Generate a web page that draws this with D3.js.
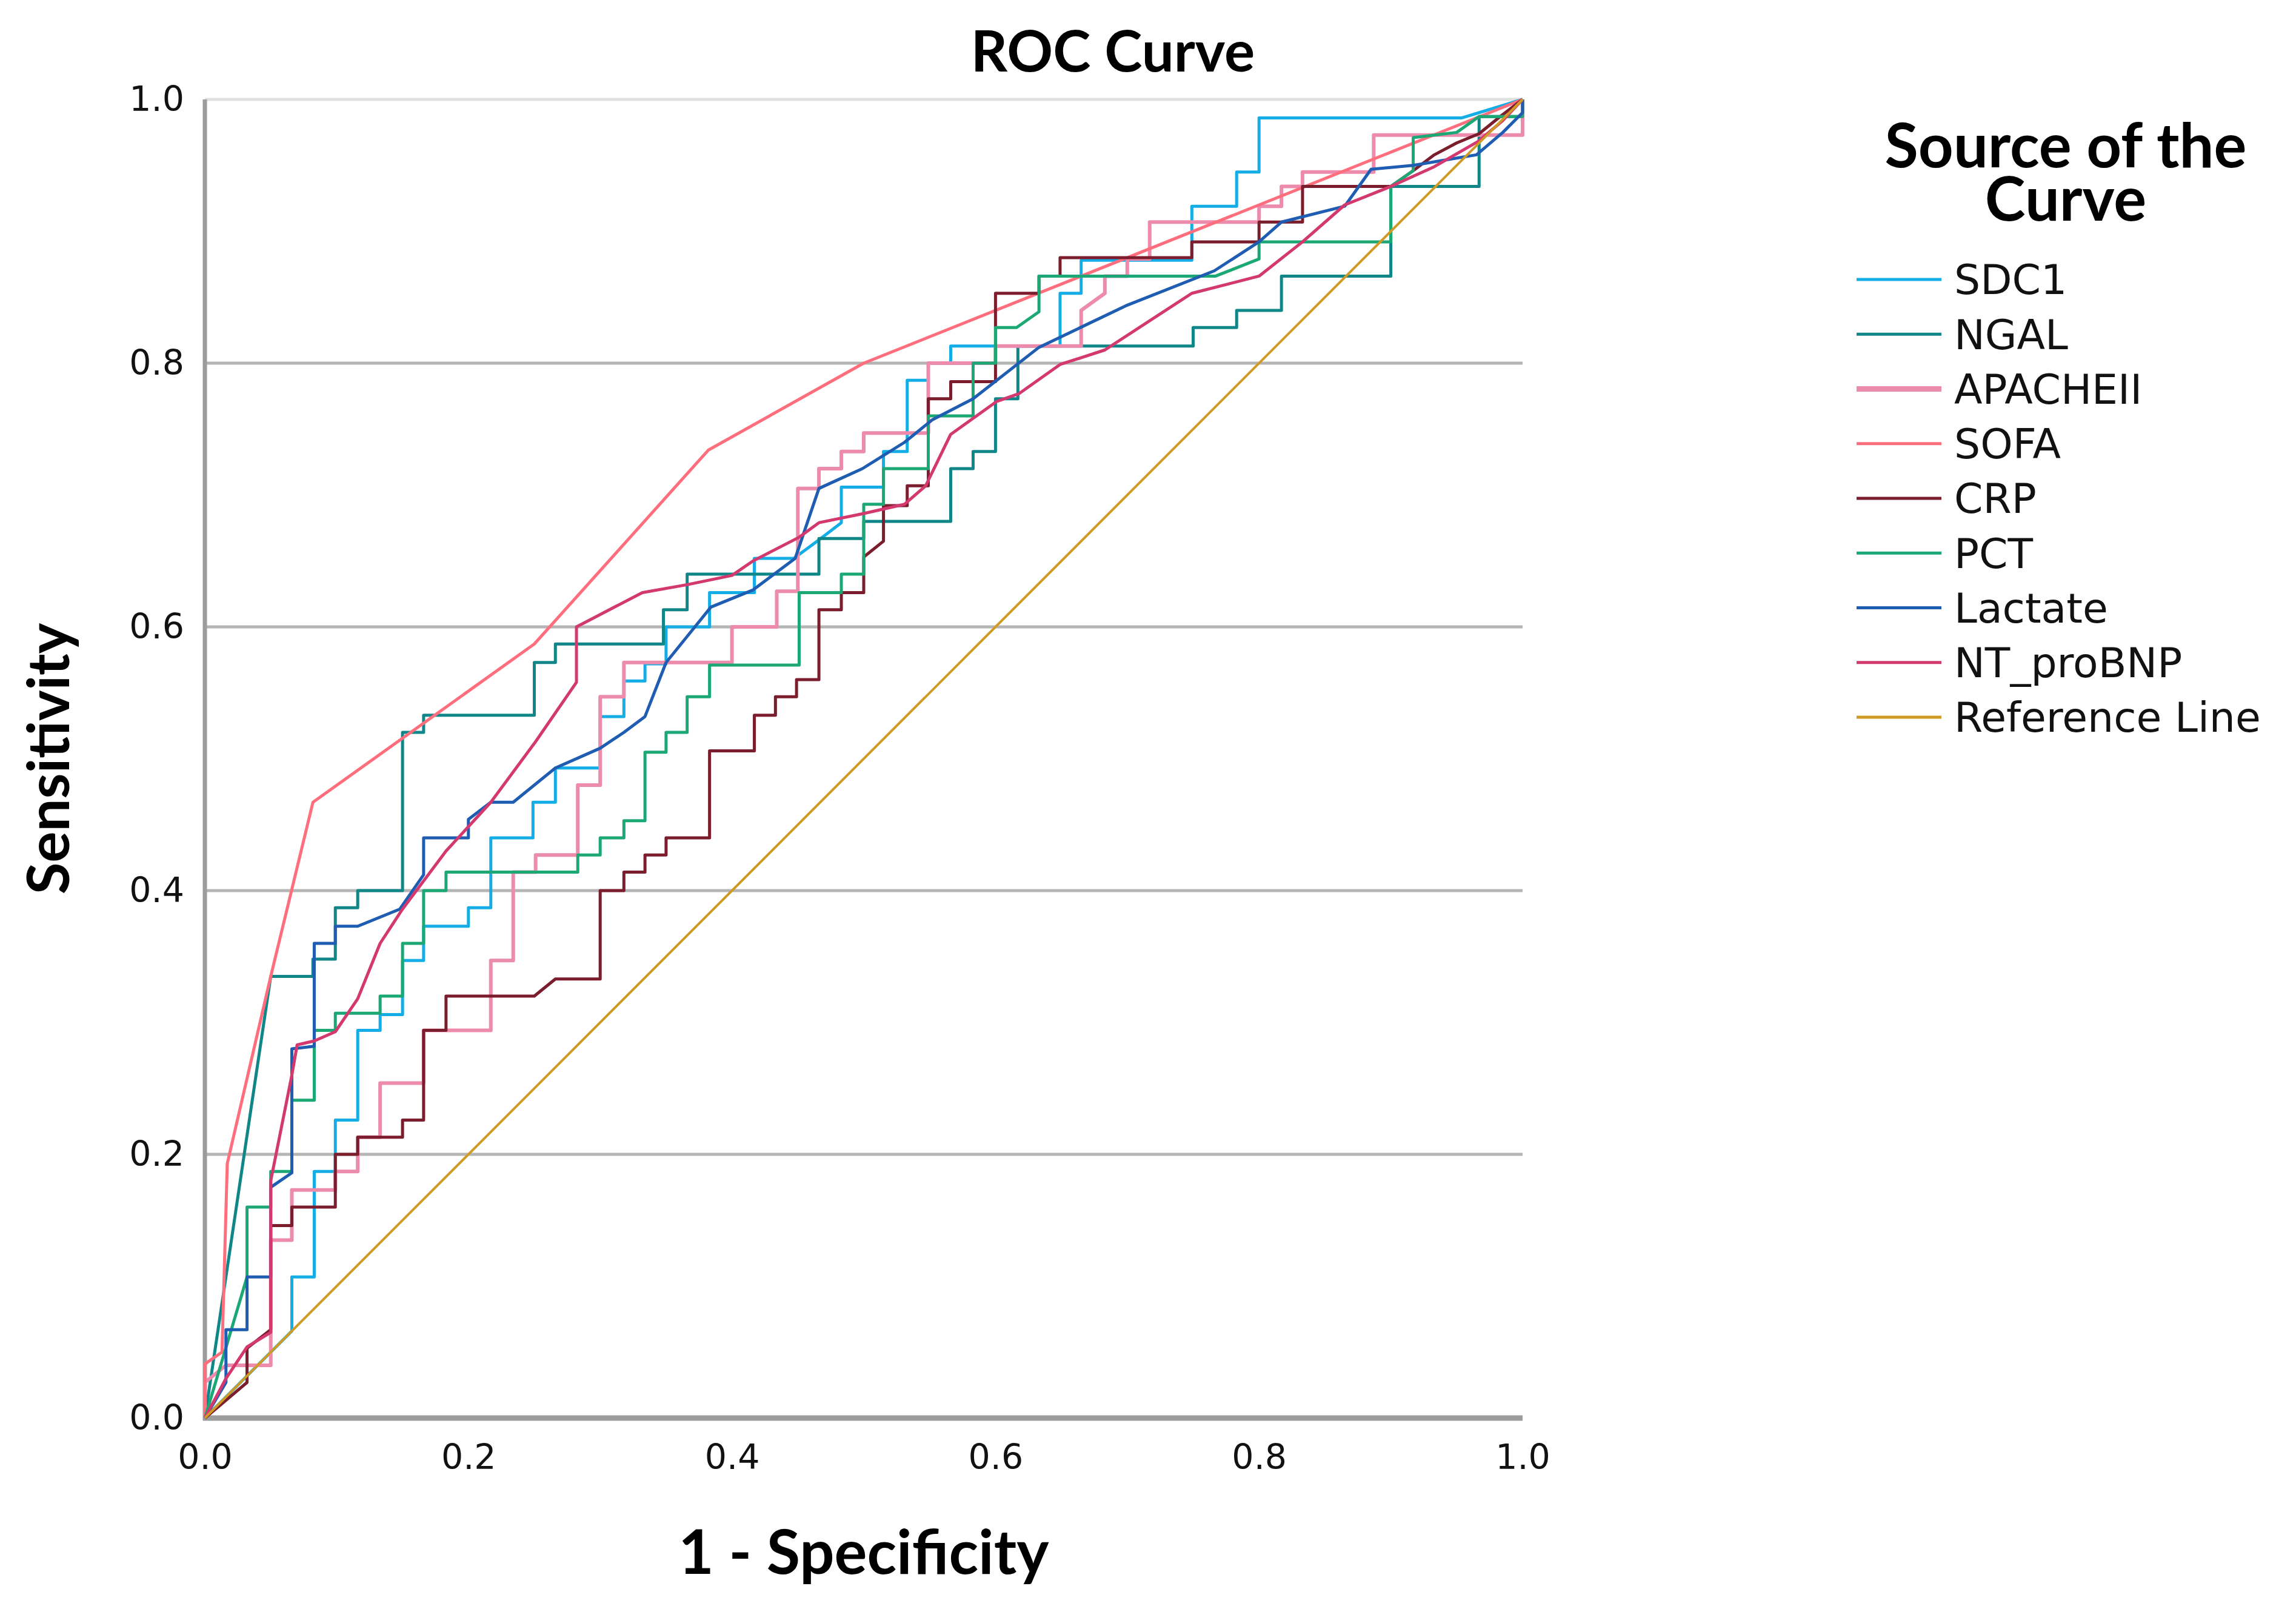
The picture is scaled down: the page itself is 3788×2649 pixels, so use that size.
<!DOCTYPE html>
<html>
<head>
<meta charset="utf-8">
<title>ROC Curve</title>
<script src="https://cdn.jsdelivr.net/npm/d3@7"></script>
<style>
  body { margin: 0; background: #fff; }
  svg { display: block; }
</style>
</head>
<body>
<div id="chart"></div>
<script>
// series names in legend order
const seriesNames = ["SDC1", "NGAL", "APACHEII", "SOFA", "CRP", "PCT", "Lactate", "NT_proBNP", "Reference Line"];
const seriesColors = ["#14ade6", "#118688", "#ec8bab", "#ff6e7c", "#7b1d2c", "#1ca874", "#1f5db3", "#d3396f", "#cf9b24"];

// points: [1 - specificity, sensitivity]
const sdc1 = [[0,0],[0.066,0.066],[0.066,0.107],[0.083,0.107],[0.083,0.187],[0.099,0.187],[0.099,0.226],[0.116,0.226],[0.116,0.294],[0.133,0.294],[0.133,0.306],[0.15,0.306],[0.15,0.347],[0.166,0.347],[0.166,0.373],[0.2,0.373],[0.2,0.387],[0.217,0.387],[0.217,0.44],[0.249,0.44],[0.249,0.467],[0.266,0.467],[0.266,0.493],[0.3,0.493],[0.3,0.532],[0.318,0.532],[0.318,0.559],[0.334,0.559],[0.334,0.572],[0.35,0.572],[0.35,0.6],[0.383,0.6],[0.383,0.626],[0.417,0.626],[0.417,0.652],[0.447,0.652],[0.466,0.666],[0.483,0.679],[0.483,0.706],[0.515,0.706],[0.515,0.733],[0.533,0.733],[0.533,0.787],[0.549,0.787],[0.549,0.8],[0.566,0.8],[0.566,0.813],[0.649,0.813],[0.649,0.853],[0.665,0.853],[0.665,0.878],[0.749,0.878],[0.749,0.919],[0.783,0.919],[0.783,0.945],[0.8,0.945],[0.8,0.986],[0.954,0.986],[1,1]];
const ngal = [[0,0],[0.05,0.335],[0.082,0.335],[0.082,0.348],[0.099,0.348],[0.099,0.387],[0.116,0.387],[0.116,0.4],[0.15,0.4],[0.15,0.52],[0.166,0.52],[0.166,0.533],[0.25,0.533],[0.25,0.573],[0.266,0.573],[0.266,0.587],[0.348,0.587],[0.348,0.613],[0.366,0.613],[0.366,0.64],[0.466,0.64],[0.466,0.667],[0.5,0.667],[0.5,0.68],[0.566,0.68],[0.566,0.72],[0.583,0.72],[0.583,0.733],[0.6,0.733],[0.6,0.773],[0.617,0.773],[0.617,0.813],[0.75,0.813],[0.75,0.827],[0.783,0.827],[0.783,0.84],[0.817,0.84],[0.817,0.866],[0.9,0.866],[0.9,0.934],[0.967,0.934],[0.967,0.987],[1,0.987],[1,1]];
const apache = [[0,0],[0,0.027],[0.016,0.04],[0.05,0.04],[0.05,0.135],[0.066,0.135],[0.066,0.173],[0.099,0.173],[0.099,0.187],[0.116,0.187],[0.116,0.213],[0.133,0.213],[0.133,0.254],[0.166,0.254],[0.166,0.294],[0.217,0.294],[0.217,0.347],[0.234,0.347],[0.234,0.414],[0.251,0.414],[0.251,0.427],[0.283,0.427],[0.283,0.48],[0.3,0.48],[0.3,0.547],[0.318,0.547],[0.318,0.573],[0.4,0.573],[0.4,0.6],[0.434,0.6],[0.434,0.627],[0.45,0.627],[0.45,0.705],[0.466,0.705],[0.466,0.72],[0.483,0.72],[0.483,0.733],[0.5,0.733],[0.5,0.747],[0.549,0.747],[0.549,0.8],[0.6,0.8],[0.6,0.813],[0.665,0.813],[0.665,0.84],[0.683,0.853],[0.683,0.866],[0.7,0.866],[0.7,0.879],[0.717,0.879],[0.717,0.907],[0.8,0.907],[0.8,0.919],[0.817,0.919],[0.817,0.934],[0.833,0.934],[0.833,0.945],[0.887,0.945],[0.887,0.973],[1,0.973],[1,1]];
const sofa = [[0,0],[0,0.041],[0.013,0.05],[0.017,0.193],[0.05,0.335],[0.082,0.467],[0.25,0.587],[0.382,0.734],[0.5,0.8],[1,1]];
const crp = [[0,0],[0.032,0.027],[0.032,0.053],[0.05,0.067],[0.05,0.146],[0.066,0.146],[0.066,0.16],[0.099,0.16],[0.099,0.2],[0.116,0.2],[0.116,0.213],[0.15,0.213],[0.15,0.226],[0.166,0.226],[0.166,0.294],[0.183,0.294],[0.183,0.32],[0.25,0.32],[0.266,0.333],[0.3,0.333],[0.3,0.4],[0.318,0.4],[0.318,0.414],[0.334,0.414],[0.334,0.427],[0.35,0.427],[0.35,0.44],[0.383,0.44],[0.383,0.506],[0.417,0.506],[0.417,0.533],[0.433,0.533],[0.433,0.547],[0.449,0.547],[0.449,0.56],[0.466,0.56],[0.466,0.613],[0.483,0.613],[0.483,0.626],[0.5,0.626],[0.5,0.653],[0.515,0.665],[0.515,0.692],[0.533,0.692],[0.533,0.707],[0.549,0.707],[0.549,0.773],[0.566,0.773],[0.566,0.786],[0.6,0.786],[0.6,0.853],[0.633,0.853],[0.633,0.866],[0.649,0.866],[0.649,0.88],[0.749,0.88],[0.749,0.892],[0.8,0.892],[0.8,0.907],[0.833,0.907],[0.833,0.934],[0.9,0.934],[0.917,0.946],[0.933,0.958],[0.95,0.967],[0.967,0.974],[0.983,0.987],[1,1]];
const pct = [[0,0],[0.006,0.02],[0.032,0.107],[0.032,0.16],[0.05,0.16],[0.05,0.187],[0.066,0.187],[0.066,0.241],[0.083,0.241],[0.083,0.294],[0.099,0.294],[0.099,0.307],[0.133,0.307],[0.133,0.32],[0.15,0.32],[0.15,0.36],[0.166,0.36],[0.166,0.4],[0.183,0.4],[0.183,0.414],[0.283,0.414],[0.283,0.427],[0.3,0.427],[0.3,0.44],[0.318,0.44],[0.318,0.453],[0.334,0.453],[0.334,0.505],[0.35,0.505],[0.35,0.52],[0.366,0.52],[0.366,0.547],[0.383,0.547],[0.383,0.571],[0.451,0.571],[0.451,0.626],[0.483,0.626],[0.483,0.64],[0.5,0.64],[0.5,0.693],[0.515,0.693],[0.515,0.72],[0.549,0.72],[0.549,0.76],[0.583,0.76],[0.583,0.8],[0.6,0.8],[0.6,0.827],[0.616,0.827],[0.633,0.839],[0.633,0.866],[0.767,0.866],[0.8,0.879],[0.8,0.892],[0.9,0.892],[0.9,0.934],[0.917,0.946],[0.917,0.971],[0.95,0.975],[0.967,0.987],[1,0.987],[1,1]];
const lactate = [[0,0],[0.016,0.027],[0.016,0.067],[0.032,0.067],[0.032,0.107],[0.05,0.107],[0.05,0.175],[0.066,0.186],[0.066,0.28],[0.083,0.282],[0.083,0.36],[0.099,0.36],[0.099,0.373],[0.116,0.373],[0.148,0.386],[0.166,0.412],[0.166,0.44],[0.2,0.44],[0.2,0.454],[0.217,0.467],[0.234,0.467],[0.266,0.493],[0.3,0.508],[0.318,0.52],[0.334,0.532],[0.35,0.573],[0.384,0.615],[0.416,0.628],[0.448,0.652],[0.466,0.705],[0.499,0.72],[0.531,0.74],[0.552,0.757],[0.583,0.773],[0.633,0.812],[0.7,0.844],[0.766,0.87],[0.8,0.892],[0.817,0.907],[0.865,0.919],[0.885,0.947],[0.917,0.95],[0.965,0.958],[0.985,0.975],[1,0.99],[1,1]];
const ntprobnp = [[0,0],[0.016,0.03],[0.032,0.054],[0.05,0.065],[0.05,0.18],[0.066,0.26],[0.07,0.283],[0.083,0.286],[0.099,0.293],[0.116,0.318],[0.133,0.36],[0.15,0.386],[0.183,0.43],[0.217,0.467],[0.251,0.513],[0.282,0.558],[0.282,0.6],[0.332,0.626],[0.366,0.632],[0.4,0.639],[0.416,0.65],[0.451,0.668],[0.466,0.679],[0.5,0.686],[0.531,0.693],[0.547,0.707],[0.566,0.746],[0.601,0.771],[0.618,0.777],[0.649,0.799],[0.683,0.81],[0.749,0.853],[0.8,0.866],[0.833,0.892],[0.865,0.92],[0.9,0.934],[0.933,0.949],[0.966,0.968],[0.985,0.984],[1,1]];
const refLine = [[0,0],[1,1]];

const curves = [sdc1, ngal, apache, sofa, crp, pct, lactate, ntprobnp, refLine];
const ticks = [0, 0.2, 0.4, 0.6, 0.8, 1.0];
const legendTitle = ["Source of the", "Curve"];

const width = 3788;
const height = 2649;
const margin = { left: 338, top: 164, right: 1276, bottom: 310 };
const plotW = width - margin.left - margin.right;
const plotH = height - margin.top - margin.bottom;

const svg = d3.select("#chart")
    .append("svg")
    .attr("width", width)
    .attr("height", height);

const x = d3.scaleLinear().domain([0, 1]).range([margin.left, margin.left + plotW]);
const y = d3.scaleLinear().domain([0, 1]).range([margin.top + plotH, margin.top]);

// horizontal grid lines
svg.append("g")
    .selectAll("line")
    .data(ticks.filter(d => d > 0))
    .enter()
    .append("line")
    .attr("x1", x(0))
    .attr("x2", x(1))
    .attr("y1", d => y(d))
    .attr("y2", d => y(d))
    .style("stroke", d => d === 1 ? "#e0e0e0" : "#b5b5b5")
    .style("stroke-width", 5);

// axes, labels only
const fmt = d3.format(".1f");
const yAxis = svg.append("g")
    .attr("transform", `translate(${x(0)},0)`)
    .call(d3.axisLeft(y).tickValues(ticks).tickFormat(fmt).tickSize(0).tickPadding(34));
const xAxis = svg.append("g")
    .attr("transform", `translate(0,${y(0)})`)
    .call(d3.axisBottom(x).tickValues(ticks).tickFormat(fmt).tickSize(0).tickPadding(44));
[yAxis, xAxis].forEach(a => {
    a.select(".domain").remove();
    a.selectAll("text")
        .style("font-family", "'DejaVu Sans', sans-serif")
        .style("font-size", "57px")
        .style("fill", "#111");
});

// axis lines
svg.append("line")
    .attr("x1", x(0)).attr("x2", x(0))
    .attr("y1", y(1)).attr("y2", y(0) + 4)
    .style("stroke", "#9c9c9c").style("stroke-width", 7);
svg.append("line")
    .attr("x1", x(0) - 3).attr("x2", x(1))
    .attr("y1", y(0)).attr("y2", y(0))
    .style("stroke", "#9c9c9c").style("stroke-width", 9);

// curves
const line = d3.line()
    .x(d => x(d[0]))
    .y(d => y(d[1]));

svg.append("g")
    .selectAll("path")
    .data(curves)
    .enter()
    .append("path")
    .attr("d", line)
    .style("fill", "none")
    .style("stroke", (d, i) => seriesColors[i])
    .style("stroke-width", (d, i) => i === 2 ? 6 : i === 8 ? 4 : 5)
    .style("stroke-linejoin", "round");

// titles
svg.append("text")
    .attr("x", 1836)
    .attr("y", 118)
    .attr("text-anchor", "middle")
    .style("font-family", "Lato, sans-serif")
    .style("font-weight", "bold")
    .style("font-size", "94px")
    .text("ROC Curve");

svg.append("text")
    .attr("x", x(0.5))
    .attr("y", 2596)
    .attr("text-anchor", "middle")
    .style("font-family", "Lato, sans-serif")
    .style("font-weight", "bold")
    .style("font-size", "101px")
    .text("1 - Specificity");

svg.append("text")
    .attr("transform", `translate(114,${y(0.5)}) rotate(-90)`)
    .attr("text-anchor", "middle")
    .style("font-family", "Lato, sans-serif")
    .style("font-weight", "bold")
    .style("font-size", "96px")
    .text("Sensitivity");

// legend
const legend = svg.append("g");
legend.append("text")
    .attr("y", 276)
    .attr("text-anchor", "middle")
    .style("font-family", "Lato, sans-serif")
    .style("font-weight", "bold")
    .style("font-size", "101px")
    .selectAll("tspan")
    .data(legendTitle)
    .enter()
    .append("tspan")
    .attr("x", 3408)
    .attr("dy", (d, i) => i === 0 ? 0 : 88)
    .text(d => d);

const rows = legend.selectAll("g.row")
    .data(seriesNames)
    .enter()
    .append("g")
    .attr("class", "row")
    .attr("transform", (d, i) => `translate(0,${461 + i * 90.25})`);

rows.append("line")
    .attr("x1", 3063)
    .attr("x2", 3203)
    .style("stroke", (d, i) => seriesColors[i])
    .style("stroke-width", (d, i) => i === 2 ? 9 : 5);

rows.append("text")
    .attr("x", 3224)
    .attr("dy", "0.36em")
    .style("font-family", "'DejaVu Sans', sans-serif")
    .style("font-size", "68px")
    .style("fill", "#111")
    .text(d => d);
</script>
</body>
</html>
